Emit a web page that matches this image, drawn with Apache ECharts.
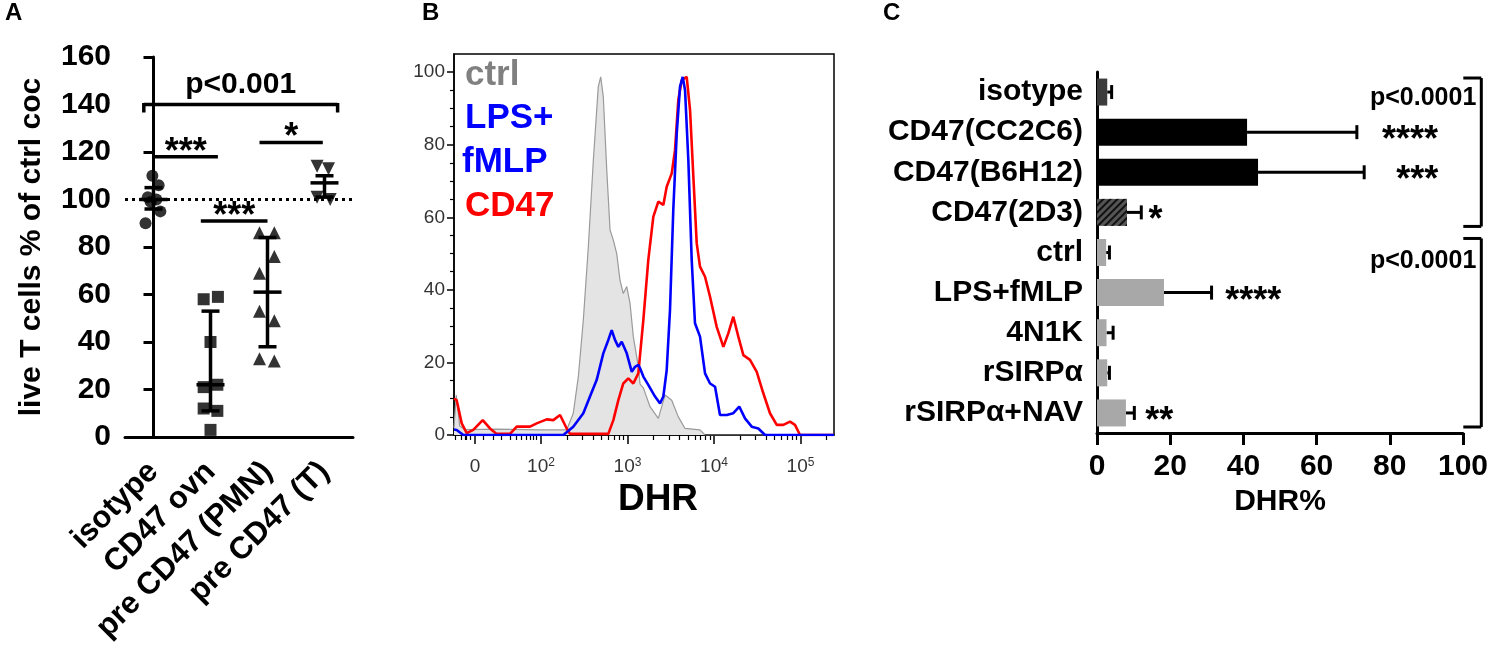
<!DOCTYPE html>
<html>
<head>
<meta charset="utf-8">
<script src="https://cdn.jsdelivr.net/npm/echarts@6/dist/echarts.min.js"></script>
<style>
  html, body { margin: 0; padding: 0; background: #fff; }
  #chart { width: 1494px; height: 655px; }
</style>
</head>
<body>
<div id="chart"></div>
<script>
var FONT = "'Liberation Sans', Arial, Helvetica, sans-serif";

// ---- panel A: live T cells % of ctrl coc ----
const aCategories = ['isotype', 'CD47 ovn', 'pre CD47 (PMN)', 'pre CD47 (T)'];
const aIsotype = [110, 106, 101, 100, 99, 95, 90];
const aCd47Ovn = [59, 58, 40, 22, 21, 12, 11, 3];
const aPrePmn = [86, 86, 76, 69, 53, 49, 33, 32];
const aPreT = [114, 113, 101, 100];
// median and interquartile range per group
const aMedian = [100, 22, 61, 107];
const aLow = [96, 11, 38, 101];
const aHigh = [105, 53, 84, 110];
// significance bars: from, to (group units), height, text
const aSigFrom = [-0.17, 0.0, 1.86, 0.83];
const aSigTo = [3.23, 1.13, 2.97, 2.0];
const aSigY = [140, 118, 124, 91];
const aSigText = ['p<0.001', '***', '*', '***'];

// horizontal scatter of the dots inside a group (group units)
const jitIsotype = [-0.02, 0.09, -0.1, 0.05, -0.05, 0.12, -0.14];
const jitOvn = [0.13, -0.12, 0, 0.12, -0.12, -0.12, 0.12, 0];
const jitPmn = [-0.14, 0.12, 0.12, -0.14, -0.14, 0.12, -0.14, 0.12];
const jitT = [-0.13, 0.07, -0.13, 0.1];

// ---- panel B: DHR histogram (x in decades of the logicle axis, y = % of max) ----
const bCtrl = [
  [0.994, 2], [1.02, 11], [1.06, 2.5], [1.12, 1.5], [1.5, 1.6], [2.0, 1.4], [2.297, 1.4],
  [2.373, 6], [2.431, 16], [2.489, 31.7], [2.547, 51.9], [2.605, 75.8], [2.662, 96],
  [2.690, 98.7], [2.720, 93.2], [2.760, 73], [2.798, 56.5], [2.836, 53.7], [2.875, 50],
  [2.913, 42.7], [2.951, 39], [2.991, 40.9], [3.029, 36.3], [3.067, 27.1], [3.125, 18.8],
  [3.145, 14], [3.183, 13], [3.260, 7.8], [3.356, 4.6], [3.434, 11], [3.511, 9.6],
  [3.587, 5], [3.665, 1.8], [3.838, 1.4], [3.896, 0], [5.387, 0]
];
const bLps = [
  [0.994, 1.5], [1.025, 1.4], [1.102, 0], [2.258, 0], [2.373, 2.3], [2.489, 6],
  [2.566, 10.6], [2.644, 15.2], [2.720, 22.5], [2.778, 26.2], [2.817, 28.9], [2.855, 26.2],
  [2.894, 24.3], [2.933, 25.7], [2.991, 22.5], [3.049, 17.4], [3.087, 18.8], [3.125, 19.3],
  [3.145, 18.4], [3.183, 16.1], [3.240, 13.8], [3.318, 10.6], [3.376, 8.7], [3.414, 10.6],
  [3.453, 17.9], [3.491, 34.4], [3.529, 62], [3.569, 83.1], [3.607, 96], [3.638, 98.7],
  [3.665, 95], [3.703, 75.8], [3.742, 48.2], [3.780, 30.8], [3.838, 27.1], [3.896, 17],
  [3.954, 14.2], [4.012, 13.3], [4.069, 5.5], [4.147, 5.5], [4.223, 6], [4.292, 7.8],
  [4.358, 4.6], [4.436, 2.3], [4.512, 1.8], [4.590, 0], [5.387, 0]
];
const bCd47 = [
  [0.994, 10], [1.025, 9.6], [1.083, 3.2], [1.141, 0.5], [1.217, 1.4], [1.326, 4.1],
  [1.410, 1.8], [1.488, 0.3], [1.642, 0.3], [1.719, 2.3], [1.873, 2.3], [1.950, 3.2],
  [2.066, 4.3], [2.142, 4.1], [2.220, 5.5], [2.297, 1.8], [2.335, 0.3], [2.778, 0.3],
  [2.836, 4.1], [2.894, 9.6], [2.951, 14.2], [3.009, 15.6], [3.067, 14.2], [3.125, 17],
  [3.183, 31.7], [3.240, 48.2], [3.298, 60.1], [3.356, 64.3], [3.414, 63.4], [3.453, 68.4],
  [3.511, 72.1], [3.549, 78.5], [3.587, 92.3], [3.627, 97.8], [3.684, 98.7], [3.723, 89.5],
  [3.761, 71.2], [3.800, 52.8], [3.838, 46.4], [3.896, 43.6], [3.954, 38.1], [4.031, 29.8],
  [4.108, 24.3], [4.165, 28], [4.223, 32.6], [4.281, 27.1], [4.339, 22], [4.416, 20.7],
  [4.494, 17.4], [4.570, 11.5], [4.647, 6], [4.725, 2.8], [4.801, 2.8], [4.879, 3.7],
  [4.936, 2.8], [4.994, 0], [5.387, 0]
];
const bTickValues = [1.237, 2, 3, 4, 5];
const bTickExp = ['', '2', '3', '4', '5'];
const bLowTicks = [1.006, 1.083, 1.121, 1.141, 1.179, 1.333, 1.449, 1.546, 1.642, 1.719, 1.777, 1.835, 1.873, 1.911, 1.950];
const bYLabels = [0, 20, 40, 60, 80, 100];

// ---- panel C: DHR% ----
const cCategories = ['isotype', 'CD47(CC2C6)', 'CD47(B6H12)', 'CD47(2D3)', 'ctrl', 'LPS+fMLP', '4N1K', 'rSIRPα', 'rSIRPα+NAV'];
const cMeans = [2.8, 41, 44, 8.2, 2.5, 18.3, 2.6, 2.8, 7.9];
const cErrTop = [4.0, 71, 73, 12.1, 3.4, 31.3, 4.4, 3.4, 10.2];
const cStars = ['', '****', '***', '*', '', '****', '', '', '**'];
const cStarX = [0, 85.5, 87.5, 16, 0, 42.7, 0, 0, 17];
const cGroupFrom = [0, 4];
const cGroupTo = [3, 8];
const cGroupText = ['p<0.0001', 'p<0.0001'];

var bMinorTicks = bLowTicks.slice();
[2, 3, 4, 5].forEach(function (n) {
  for (var k = 2; k <= 9; k++) bMinorTicks.push(n + Math.log10(k));
});
var bYMinor = [];
for (var v = 5; v < 100; v += 5) if (v % 20) bYMinor.push(v);

var chart = echarts.init(document.getElementById('chart'));

function dots(values, jitter, gi) {
  return values.map(function (y, i) { return [gi + jitter[i], y]; });
}

var blk = { color: '#000', width: 3 };
var boldTxt = { fontFamily: FONT, fontWeight: 'bold', color: '#000' };

var cBarStyles = [
  { color: '#3c3c3c' },
  { color: '#000' },
  { color: '#000' },
  { color: '#555', decal: { symbol: 'rect', symbolSize: 1, dashArrayX: [1, 0], dashArrayY: [2, 3], rotation: -Math.PI / 4, color: '#111' } },
  { color: '#a8a8a8' }, { color: '#a8a8a8' }, { color: '#a8a8a8' }, { color: '#a8a8a8' }, { color: '#a8a8a8' }
];

var option = {
  animation: false,
  backgroundColor: '#fff',
  textStyle: { fontFamily: FONT },
  grid: [
    { left: 125, top: 57, width: 228, height: 380 },
    { left: 454, top: 54, width: 380, height: 381, show: true, borderColor: '#000', borderWidth: 1.5 },
    { left: 1097, top: 72, width: 366, height: 361 }
  ],
  xAxis: [
    {
      gridIndex: 0, type: 'category', data: aCategories,
      axisLine: { lineStyle: blk },
      axisTick: { alignWithLabel: true, length: 12, lineStyle: blk },
      axisLabel: Object.assign({ rotate: 45, fontSize: 31, margin: 30, interval: 0 }, boldTxt)
    },
    { gridIndex: 0, type: 'value', min: -0.5, max: 3.5, show: false },
    {
      gridIndex: 1, type: 'value', position: 'bottom', min: 0.994, max: 5.387,
      axisLine: { show: true, lineStyle: { color: '#000', width: 1.5 } },
      axisTick: { customValues: bTickValues, length: 9, lineStyle: { color: '#000', width: 1.5 } },
      splitLine: { show: false },
      axisLabel: {
        customValues: bTickValues, margin: 22, color: '#333',
        formatter: function (v) {
          var i = bTickValues.findIndex(function (t) { return Math.abs(t - v) < 1e-6; });
          return bTickExp[i] ? '{b|10}{s|' + bTickExp[i] + '}' : '{b|0}';
        },
        rich: {
          b: { fontSize: 19, color: '#333', fontFamily: FONT },
          s: { fontSize: 12, color: '#333', fontFamily: FONT, verticalAlign: 'top' }
        }
      },
      name: 'DHR', nameLocation: 'middle', nameGap: 33,
      nameTextStyle: Object.assign({ fontSize: 37, padding: [0, 0, 0, 28] }, boldTxt)
    },
    {
      gridIndex: 1, type: 'value', position: 'bottom', offset: 0, min: 0.994, max: 5.387,
      axisLine: { show: false },
      axisTick: { customValues: bMinorTicks, length: 5, lineStyle: { color: '#000', width: 1.2 } },
      axisLabel: { show: false }, splitLine: { show: false }
    },
    {
      gridIndex: 2, type: 'value', min: 0, max: 100, interval: 20,
      axisLine: { show: true, lineStyle: blk },
      axisTick: { show: true, length: 12, lineStyle: blk },
      splitLine: { show: false },
      axisLabel: Object.assign({ fontSize: 30, margin: 19 }, boldTxt),
      name: 'DHR%', nameLocation: 'middle', nameGap: 48,
      nameTextStyle: Object.assign({ fontSize: 30 }, boldTxt)
    }
  ],
  yAxis: [
    {
      gridIndex: 0, type: 'value', min: 0, max: 160, interval: 20,
      axisLine: { show: true, lineStyle: blk },
      axisTick: { show: true, length: 10, lineStyle: blk },
      splitLine: { show: false },
      axisLabel: Object.assign({ fontSize: 30, margin: 14 }, boldTxt),
      name: 'live T cells % of ctrl coc', nameLocation: 'middle', nameRotate: 90, nameGap: 78,
      nameTextStyle: Object.assign({ fontSize: 30 }, boldTxt)
    },
    {
      gridIndex: 1, type: 'value', position: 'left', min: 0, max: 105,
      axisLine: { show: true, lineStyle: { color: '#000', width: 1.5 } },
      axisTick: { customValues: bYLabels, length: 7, lineStyle: { color: '#000', width: 1.5 } },
      axisLabel: { customValues: bYLabels, fontSize: 19, color: '#333', margin: 9, fontFamily: FONT },
      splitLine: { show: false }
    },
    {
      gridIndex: 1, type: 'value', position: 'left', offset: 0, min: 0, max: 105,
      axisLine: { show: false },
      axisTick: { customValues: bYMinor, length: 4, lineStyle: { color: '#000', width: 1.2 } },
      axisLabel: { show: false }, splitLine: { show: false }
    },
    {
      gridIndex: 2, type: 'category', data: cCategories, inverse: true,
      axisLine: { lineStyle: blk },
      axisTick: { alignWithLabel: true, length: 10, lineStyle: blk },
      axisLabel: Object.assign({ fontSize: 30, margin: 14, interval: 0 }, boldTxt)
    }
  ],
  graphic: [
    { type: 'text', x: 5, y: 1, style: { text: 'A', font: 'bold 24px ' + FONT, fill: '#000' } },
    { type: 'text', x: 422, y: 1, style: { text: 'B', font: 'bold 24px ' + FONT, fill: '#000' } },
    { type: 'text', x: 883, y: 1, style: { text: 'C', font: 'bold 24px ' + FONT, fill: '#000' } },
    { type: 'text', x: 465, y: 75, style: { text: 'ctrl', font: 'bold 35px ' + FONT, fill: '#808080', verticalAlign: 'middle' } },
    { type: 'text', x: 465, y: 118, style: { text: 'LPS+', font: 'bold 35px ' + FONT, fill: '#0000ff', verticalAlign: 'middle' } },
    { type: 'text', x: 462, y: 162, style: { text: 'fMLP', font: 'bold 35px ' + FONT, fill: '#0000ff', verticalAlign: 'middle' } },
    { type: 'text', x: 465, y: 206, style: { text: 'CD47', font: 'bold 35px ' + FONT, fill: '#ff0000', verticalAlign: 'middle' } }
  ],
  series: [
    // panel A dots
    {
      type: 'scatter', xAxisIndex: 1, yAxisIndex: 0, symbol: 'circle', symbolSize: 12,
      itemStyle: { color: '#000' }, data: dots(aIsotype, jitIsotype, 0),
      markLine: {
        silent: true, symbol: 'none', label: { show: false },
        lineStyle: { color: '#000', width: 3, type: [3, 4] },
        data: [{ yAxis: 100 }]
      }
    },
    { type: 'scatter', xAxisIndex: 1, yAxisIndex: 0, symbol: 'rect', symbolSize: 12, itemStyle: { color: '#000' }, data: dots(aCd47Ovn, jitOvn, 1) },
    { type: 'scatter', xAxisIndex: 1, yAxisIndex: 0, symbol: 'triangle', symbolSize: 13, itemStyle: { color: '#000' }, data: dots(aPrePmn, jitPmn, 2) },
    { type: 'scatter', xAxisIndex: 1, yAxisIndex: 0, symbol: 'triangle', symbolRotate: 180, symbolSize: 13, itemStyle: { color: '#000' }, data: dots(aPreT, jitT, 3) },
    // panel A median + IQR
    {
      type: 'custom', xAxisIndex: 1, yAxisIndex: 0, z: 3,
      data: aMedian.map(function (m, i) { return [i, aLow[i], m, aHigh[i]]; }),
      encode: { x: 0, y: [1, 2, 3] },
      renderItem: function (params, api) {
        var x = api.value(0);
        var lo = api.coord([x, api.value(1)]);
        var mid = api.coord([x, api.value(2)]);
        var hi = api.coord([x, api.value(3)]);
        var st = { stroke: '#000', lineWidth: 3.5 };
        return {
          type: 'group', children: [
            { type: 'line', shape: { x1: lo[0], y1: lo[1], x2: hi[0], y2: hi[1] }, style: st },
            { type: 'line', shape: { x1: hi[0] - 9, y1: hi[1], x2: hi[0] + 9, y2: hi[1] }, style: st },
            { type: 'line', shape: { x1: lo[0] - 9, y1: lo[1], x2: lo[0] + 9, y2: lo[1] }, style: st },
            { type: 'line', shape: { x1: mid[0] - 14, y1: mid[1], x2: mid[0] + 14, y2: mid[1] }, style: st }
          ]
        };
      }
    },
    // panel A significance bars
    {
      type: 'custom', xAxisIndex: 1, yAxisIndex: 0,
      data: aSigY.map(function (y, i) { return [aSigFrom[i], aSigTo[i], y]; }),
      encode: { x: [0, 1], y: 2 },
      renderItem: function (params, api) {
        var i = params.dataIndex;
        var a = api.coord([api.value(0), api.value(2)]);
        var b = api.coord([api.value(1), api.value(2)]);
        var st = { stroke: '#000', lineWidth: 3.5 };
        var kids = [{ type: 'line', shape: { x1: a[0], y1: a[1], x2: b[0], y2: b[1] }, style: st }];
        var txt = aSigText[i];
        var isP = txt.charAt(0) === 'p';
        if (isP) {
          kids.push({ type: 'line', shape: { x1: a[0], y1: a[1] - 1.5, x2: a[0], y2: a[1] + 8 }, style: st });
          kids.push({ type: 'line', shape: { x1: b[0], y1: b[1] - 1.5, x2: b[0], y2: b[1] + 8 }, style: st });
        }
        kids.push({
          type: 'text', x: (a[0] + b[0]) / 2, y: a[1] - (isP ? 20 : 4),
          style: { text: txt, fill: '#000', font: 'bold ' + (isP ? 30 : 36) + 'px ' + FONT, align: 'center', verticalAlign: 'middle' }
        });
        return { type: 'group', children: kids };
      }
    },
    // panel B histograms
    {
      type: 'line', xAxisIndex: 2, yAxisIndex: 1, data: bCtrl, symbol: 'none',
      lineStyle: { color: '#9a9a9a', width: 1.2 },
      areaStyle: { color: '#e4e4e4', opacity: 1 }
    },
    { type: 'line', xAxisIndex: 2, yAxisIndex: 1, data: bCd47, symbol: 'none', lineStyle: { color: '#ff0000', width: 2.6 } },
    { type: 'line', xAxisIndex: 2, yAxisIndex: 1, data: bLps, symbol: 'none', lineStyle: { color: '#0000ff', width: 2.6 } },
    // panel C bars
    {
      type: 'bar', xAxisIndex: 4, yAxisIndex: 3, barWidth: 27,
      data: cMeans.map(function (m, i) { return { value: m, itemStyle: cBarStyles[i] }; })
    },
    // panel C error bars
    {
      type: 'custom', xAxisIndex: 4, yAxisIndex: 3,
      data: cMeans.map(function (m, i) { return [m, cErrTop[i], i]; }),
      encode: { x: [0, 1], y: 2 },
      renderItem: function (params, api) {
        var p0 = api.coord([api.value(0), api.value(2)]);
        var p1 = api.coord([api.value(1), api.value(2)]);
        var st = { stroke: '#000', lineWidth: 3 };
        return {
          type: 'group', children: [
            { type: 'line', shape: { x1: p0[0], y1: p0[1], x2: p1[0], y2: p1[1] }, style: st },
            { type: 'line', shape: { x1: p1[0], y1: p1[1] - 7, x2: p1[0], y2: p1[1] + 7 }, style: st }
          ]
        };
      }
    },
    // panel C stars
    {
      type: 'custom', xAxisIndex: 4, yAxisIndex: 3,
      data: cStarX.map(function (x, i) { return [x, i]; }),
      encode: { x: 0, y: 1 },
      renderItem: function (params, api) {
        var t = cStars[params.dataIndex];
        if (!t) return null;
        var p = api.coord([api.value(0), api.value(1)]);
        return {
          type: 'text', x: p[0], y: p[1] + 9,
          style: { text: t, fill: '#000', font: 'bold 36px ' + FONT, align: 'center', verticalAlign: 'middle' }
        };
      }
    },
    // panel C group brackets
    {
      type: 'custom', xAxisIndex: 4, yAxisIndex: 3,
      data: cGroupFrom.map(function (f, i) { return [105, f, cGroupTo[i]]; }),
      encode: { x: 0, y: [1, 2] },
      renderItem: function (params, api) {
        var band = api.size([0, 1])[1];
        var top = api.coord([api.value(0), api.value(1)]);
        var bot = api.coord([api.value(0), api.value(2)]);
        var x = top[0];
        var y1 = top[1] - band * 0.35;
        var y2 = bot[1] + band * 0.35;
        var st = { stroke: '#000', lineWidth: 3 };
        return {
          type: 'group', children: [
            { type: 'line', shape: { x1: x, y1: y1, x2: x, y2: y2 }, style: st },
            { type: 'line', shape: { x1: x - 18, y1: y1, x2: x, y2: y1 }, style: st },
            { type: 'line', shape: { x1: x - 18, y1: y2, x2: x, y2: y2 }, style: st },
            {
              type: 'text', x: x - 5, y: top[1] + 6 + params.dataIndex * 3,
              style: { text: cGroupText[params.dataIndex], fill: '#000', font: 'bold 25px ' + FONT, align: 'right', verticalAlign: 'middle' }
            }
          ]
        };
      }
    }
  ]
};

option && chart.setOption(option);
</script>
</body>
</html>
